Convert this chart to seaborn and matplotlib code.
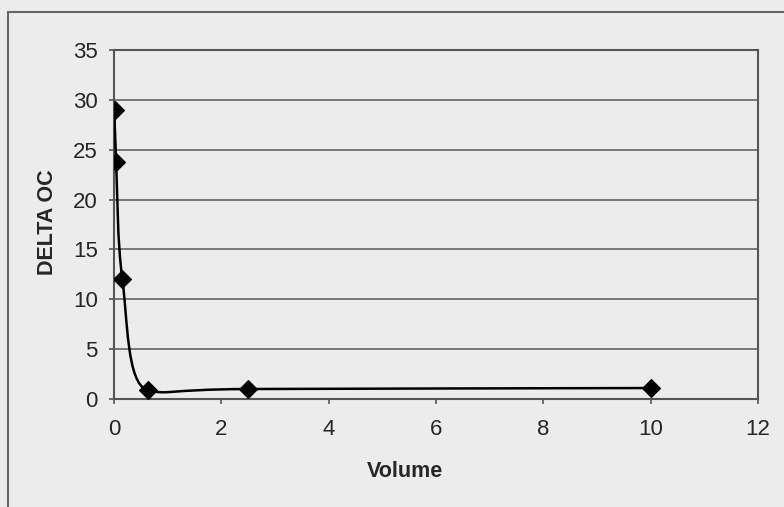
import numpy as np
import pandas as pd
import matplotlib
matplotlib.use("Agg")
import matplotlib.pyplot as plt
from matplotlib.path import Path
from matplotlib.patches import PathPatch, Rectangle
import seaborn as sns

# Data
volume = [0.0098, 0.039, 0.156, 0.625, 2.5, 10.0]
delta_oc = [29.0, 23.8, 12.0, 0.9, 1.0, 1.1]
x_ticks = [0, 2, 4, 6, 8, 10, 12]
y_ticks = [0, 5, 10, 15, 20, 25, 30, 35]

sns.set_style("white")
plt.rcParams['font.family'] = ['Liberation Sans', 'DejaVu Sans']

bg = "#ececec"
fig = plt.figure(figsize=(7.84, 5.07), dpi=100, facecolor=bg)
ax = fig.add_axes([114/784, 1-399/507, (758-114)/784, (399-50)/507])
ax.set_facecolor(bg)

# outer chart border
fig.patches.append(Rectangle((8/784, -0.1), 1.2, 1 - 12/507 + 0.1, transform=fig.transFigure,
                             fill=False, edgecolor="#666666", linewidth=1.5, zorder=0))

df = pd.DataFrame({"Volume": volume, "DELTA OC": delta_oc})

# smoothed line (Bezier through the data points, flattened at local extrema)
P = np.column_stack([volume, delta_oc])
n = len(P)
tang = []
for i in range(n):
    p_prev = P[i - 1] if i > 0 else P[i]
    p_next = P[i + 1] if i < n - 1 else P[i]
    t = (p_next - p_prev) / 6.0
    if 0 < i < n - 1 and (P[i, 1] - P[i - 1, 1]) * (P[i + 1, 1] - P[i, 1]) < 0:
        t[1] *= 0.3
    tang.append(t)
verts = [tuple(P[0])]
codes = [Path.MOVETO]
for i in range(n - 1):
    c1 = P[i] + tang[i]
    c2 = P[i + 1] - tang[i + 1]
    verts += [tuple(c1), tuple(c2), tuple(P[i + 1])]
    codes += [Path.CURVE4] * 3
ax.add_patch(PathPatch(Path(verts, codes), facecolor="none", edgecolor="black",
                       linewidth=1.8, zorder=3))

sns.scatterplot(data=df, x="Volume", y="DELTA OC", marker="D", s=85, color="black",
                edgecolor="black", ax=ax, zorder=4, legend=False)

ax.set_xlim(0, 12)
ax.set_ylim(0, 35)
ax.set_xticks(x_ticks)
ax.set_yticks(y_ticks)
for y in y_ticks[1:]:
    ax.axhline(y, color="#6e6e6e", linewidth=1.3, zorder=1)

for s in ["left", "bottom", "right", "top"]:
    ax.spines[s].set_visible(True)
    ax.spines[s].set_color("#555555")
    ax.spines[s].set_linewidth(1.5)

ax.tick_params(axis="both", direction="out", length=3.6, width=1.2, color="#555555",
               labelsize=16, left=True, bottom=True)
ax.tick_params(axis="x", pad=10.5)
ax.tick_params(axis="y", pad=8)

ax.set_xlabel("Volume", fontsize=15.5, fontweight="bold")
ax.set_ylabel("DELTA OC", fontsize=15.5, fontweight="bold")
ax.xaxis.set_label_coords((405-114)/(758-114), -(461-399)/(399-50))
ax.yaxis.set_label_coords(-(114-58)/(758-114), (399-222)/(399-50))

fig.savefig("out.png", dpi=100, facecolor=bg)
